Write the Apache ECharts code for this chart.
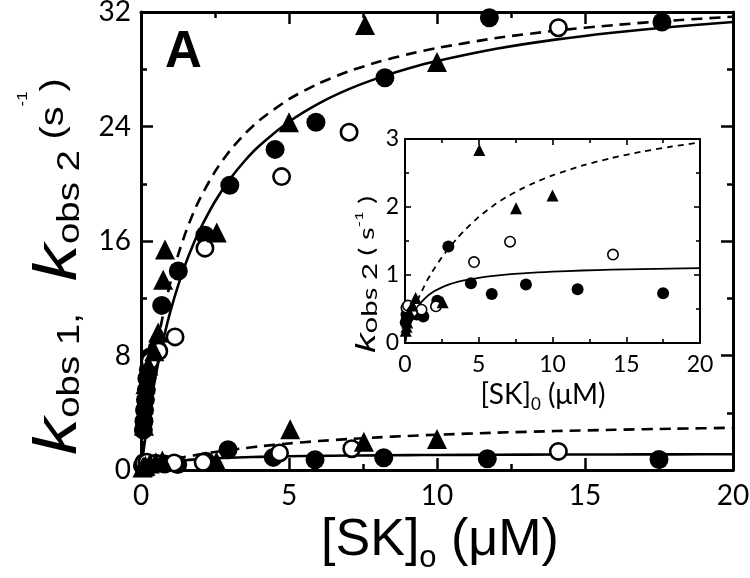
<!DOCTYPE html>
<html><head><meta charset="utf-8">
<script src="https://cdn.jsdelivr.net/npm/echarts@6/dist/echarts.min.js"></script>
<style>html,body{margin:0;padding:0;background:#fff}#c{width:750px;height:578px}</style>
</head><body><div id="c"></div>
<script>
// ---------- data ----------
// kobs1 (upper branch), [SK]o in µM vs rate in s^-1
const filledK1 = [[0.08,2.8],[0.1,3.4],[0.12,4.2],[0.15,4.9],[0.18,5.6],[0.2,6.4],[0.25,7.0],[0.3,7.9],[0.55,8.5],[0.7,11.5],[1.26,13.9],[2.16,16.4],[3.0,19.9],[4.53,22.4],[5.91,24.3],[8.24,27.4],[11.77,31.6],[17.6,31.3]];
const openK1 = [[0.3,7.6],[0.6,8.3],[1.15,9.3],[2.16,15.5],[4.75,20.5],[7.03,23.6],[14.1,30.9]];
const triK1 = [[0.1,3.1],[0.15,6.0],[0.25,7.3],[0.45,8.3],[0.58,9.6],[0.75,13.3],[0.81,15.4],[2.56,16.6],[5.0,24.3],[7.57,31.1],[10.0,28.5]];
// kobs2 (lower branch, also the inset)
const filledK2 = [[0.05,0.3],[0.1,0.42],[0.15,0.36],[0.2,0.47],[0.3,0.4],[0.5,0.45],[0.8,0.42],[1.24,0.39],[2.19,0.62],[2.94,1.42],[4.47,0.88],[5.88,0.72],[8.2,0.86],[11.7,0.79],[17.5,0.73]];
const openK2 = [[0.1,0.52],[0.2,0.55],[0.5,0.46],[1.12,0.49],[2.1,0.54],[4.68,1.19],[7.12,1.49],[14.1,1.30]];
const triK2 = [[0.05,0.18],[0.1,0.24],[0.15,0.3],[0.3,0.45],[0.5,0.55],[0.72,0.66],[2.55,0.6],[5.04,2.84],[7.53,1.98],[10.0,2.17]];
// fitted curves
const curveX  = [0,0.1,0.2,0.3,0.4,0.5,0.6,0.8,1,1.25,1.5,1.75,2,2.5,3,3.5,4,5,6,7,8,9,10,12,14,16,18,20];
const solidK1 = [0,1.57,3.0,4.31,5.51,6.63,7.66,9.51,11.13,12.87,14.38,15.69,16.84,18.76,20.31,21.59,22.65,24.33,25.6,26.59,27.38,28.03,28.57,29.43,30.07,30.57,30.97,31.3];
const dashK1  = [0,2.01,3.8,5.4,6.84,8.14,9.33,11.4,13.15,15.0,16.55,17.87,19.0,20.85,22.3,23.47,24.43,25.91,27.0,27.84,28.5,29.04,29.48,30.18,30.69,31.09,31.41,31.67];
const solidK2 = [0,0.102,0.188,0.261,0.324,0.378,0.426,0.506,0.57,0.634,0.686,0.728,0.764,0.819,0.861,0.894,0.92,0.959,0.987,1.009,1.025,1.038,1.049,1.066,1.078,1.087,1.094,1.1];
const dashK2  = [0,0.12,0.2,0.28,0.35,0.42,0.5,0.6,0.7,0.81,0.92,1.01,1.1,1.26,1.4,1.53,1.65,1.855,2.022,2.161,2.278,2.378,2.465,2.607,2.72,2.811,2.886,2.949];

// ---------- chart ----------
const pair = (xs, ys) => xs.map((x, i) => [x, ys[i]]);
const BLACK = '#000';
function axis(grid, pos, o) {
  return {
    type: 'value', gridIndex: grid, position: pos, min: o.min, max: o.max, interval: o.interval,
    axisLine: { show: true, onZero: false, lineStyle: { color: BLACK, width: o.lw } },
    axisTick: { show: true, inside: true, length: o.tl, lineStyle: { color: BLACK, width: o.tw } },
    minorTick: { show: true, splitNumber: 2, length: o.ml, lineStyle: { color: BLACK, width: o.tw } },
    splitLine: { show: false }, minorSplitLine: { show: false },
    axisLabel: { show: o.label, color: BLACK, fontSize: o.fs, fontFamily: 'Lato', margin: o.margin, showMinLabel: true, showMaxLabel: true, hideOverlap: false }
  };
}
const mainX = { min: 0, max: 20, interval: 5, lw: 3, tl: 12, ml: 6, tw: 2.5, fs: 28, margin: 12 };
const mainY = { min: 0, max: 32, interval: 8, lw: 3, tl: 12, ml: 6, tw: 2.5, fs: 28, margin: 10 };
const inX = { min: 0, max: 20, interval: 5, lw: 2, tl: 6, ml: 4, tw: 1.6, fs: 23, margin: 10 };
const inY = { min: 0, max: 3, interval: 1, lw: 2, tl: 6, ml: 4, tw: 1.6, fs: 23, margin: 6 };
const w = (o, label) => Object.assign({ label: label }, o);

function line(data, dashed, grid, lw, dash) {
  return { type: 'line', xAxisIndex: grid, yAxisIndex: grid, data: data, smooth: 0.25,
    showSymbol: false, symbol: 'none', silent: true, z: 2,
    lineStyle: { color: BLACK, width: lw, type: dashed ? dash : 'solid' } };
}
function scat(data, kind, grid, size, bw) {
  const s = { type: 'scatter', xAxisIndex: grid, yAxisIndex: grid, data: data, symbolSize: size, z: 5, silent: true };
  if (kind === 'filled') { s.symbol = 'circle'; s.itemStyle = { color: BLACK, opacity: 1 }; }
  if (kind === 'open') { s.symbol = 'circle'; s.symbolSize = size - bw; s.itemStyle = { color: '#fff', borderColor: BLACK, borderWidth: bw, opacity: 1 }; }
  if (kind === 'tri') { s.symbol = 'triangle'; s.itemStyle = { color: BLACK, opacity: 1 }; }
  return s;
}

const option = {
  animation: false,
  backgroundColor: '#fff',
  grid: [
    { left: 141, right: 17, top: 12, bottom: 108, outerBoundsMode: 'none', containLabel: false },
    { left: 405, right: 50, top: 139, bottom: 235, outerBoundsMode: 'none', containLabel: false }
  ],
  xAxis: [
    axis(0, 'bottom', w(mainX, true)),
    axis(1, 'bottom', w(inX, true)),
    axis(0, 'top', w(mainX, false)),
    axis(1, 'top', w(inX, false))
  ],
  yAxis: [
    axis(0, 'left', w(mainY, true)),
    axis(1, 'left', w(inY, true)),
    axis(0, 'right', w(mainY, false)),
    axis(1, 'right', w(inY, false))
  ],
  series: [
    line(pair(curveX, solidK1), false, 0, 2.6),
    line(pair(curveX, dashK1), true, 0, 2.6, [11, 7]),
    line(pair(curveX, solidK2), false, 0, 2.6),
    line(pair(curveX, dashK2), true, 0, 2.6, [11, 7]),
    scat(filledK1.concat(filledK2), 'filled', 0, 19, 0),
    scat(openK1.concat(openK2), 'open', 0, 19, 2.6),
    scat(triK1.concat(triK2), 'tri', 0, 20, 0),
    line(pair(curveX, solidK2), false, 1, 1.8),
    line(pair(curveX, dashK2), true, 1, 1.8, [6, 5]),
    scat(filledK2, 'filled', 1, 12, 0),
    scat(openK2, 'open', 1, 12, 1.6),
    scat(triK2, 'tri', 1, 12, 0)
  ],
  graphic: [
    { type: 'text', left: 165, top: 27, z: 10, style: { text: 'A', fontFamily: 'Liberation Sans', fontWeight: 'bold', fontSize: 51, fill: BLACK } },
    { type: 'text', x: 440, y: 544, z: 10, style: {
        text: '{a|[SK]}{s|o}{a| (μM)}', align: 'center', verticalAlign: 'middle',
        rich: { a: { fontFamily: 'Liberation Sans', fontSize: 52, fill: BLACK, color: BLACK, verticalAlign: 'bottom', padding: [0, 0, 7, 0] },
                s: { fontFamily: 'Liberation Sans', fontSize: 31, fill: BLACK, color: BLACK, verticalAlign: 'bottom' } } } },
    { type: 'text', x: 90, y: 455, rotation: Math.PI / 2, scaleX: 1.2, z: 10, style: {
        text: '{k|k}{s|obs 1,   }{k|k}{s|obs 2 }{p|(s}{u|-1}{p|)}', align: 'left', verticalAlign: 'bottom',
        rich: { k: { fontFamily: 'Liberation Sans', fontStyle: 'italic', fontSize: 62, fill: BLACK, color: BLACK, verticalAlign: 'bottom' },
                s: { fontFamily: 'Liberation Sans', fontSize: 32, fill: BLACK, color: BLACK, verticalAlign: 'bottom', padding: [0, 0, 4, 0] },
                p: { fontFamily: 'Liberation Sans', fontSize: 33, fill: BLACK, color: BLACK, verticalAlign: 'bottom', padding: [0, 0, 20, 0] },
                u: { fontFamily: 'Liberation Sans', fontSize: 14, fill: BLACK, color: BLACK, verticalAlign: 'bottom', padding: [0, 0, 60, 0] } } } },
    { type: 'text', x: 543, y: 397, z: 10, style: {
        text: '{a|[SK]}{s|0}{a| (μM)}', align: 'center', verticalAlign: 'middle',
        rich: { a: { fontFamily: 'Lato', fontSize: 28, fill: BLACK, color: BLACK, verticalAlign: 'bottom', padding: [0, 0, 4, 0] },
                s: { fontFamily: 'Lato', fontSize: 17, fill: BLACK, color: BLACK, verticalAlign: 'bottom' } } } },
    { type: 'text', x: 381, y: 353, rotation: Math.PI / 2, scaleX: 1.4, z: 10, style: {
        text: '{k|k}{s|obs 2 }{p|( s}{u|-1}{p| )}', align: 'left', verticalAlign: 'bottom',
        rich: { k: { fontFamily: 'Liberation Sans', fontStyle: 'italic', fontSize: 28, fill: BLACK, color: BLACK, verticalAlign: 'bottom' },
                s: { fontFamily: 'Lato', fontSize: 21, fill: BLACK, color: BLACK, verticalAlign: 'bottom' },
                p: { fontFamily: 'Lato', fontSize: 21, fill: BLACK, color: BLACK, verticalAlign: 'bottom', padding: [0, 0, 3, 0] },
                u: { fontFamily: 'Lato', fontSize: 12, fill: BLACK, color: BLACK, verticalAlign: 'bottom', padding: [0, 0, 16, 0] } } } }
  ]
};
const chart = echarts.init(document.getElementById('c'), null, { renderer: 'canvas' });
chart.setOption(option);
</script></body></html>
